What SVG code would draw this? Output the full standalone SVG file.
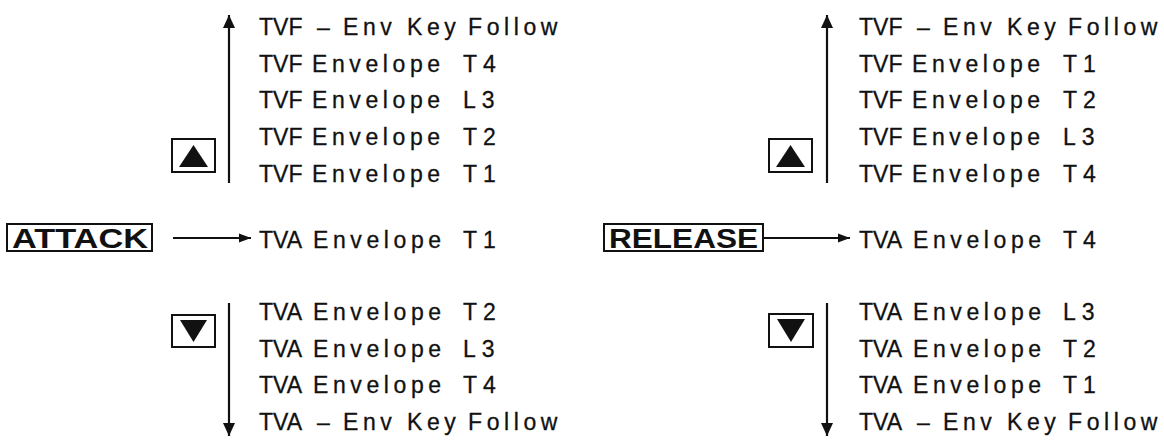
<svg xmlns="http://www.w3.org/2000/svg" width="1164" height="444" viewBox="0 0 1164 444">
<style>
.t{font-family:"Liberation Sans",Arial,sans-serif;font-size:23px;fill:#111;stroke:#111;stroke-width:0.3}
.w{letter-spacing:4.6px}
.n{letter-spacing:6px}
.btn{font-family:"Liberation Sans",Arial,sans-serif;font-weight:bold;font-size:27px;fill:#111}
.box{fill:#fff;stroke:#111;stroke-width:2}
.tri{fill:#111}
.ln{stroke:#111;stroke-width:2.2;fill:none}
.v{marker-end:url(#ah)}
.h{marker-end:url(#ahs)}
</style>
<defs>
<marker id="ah" markerUnits="userSpaceOnUse" markerWidth="13" markerHeight="13" viewBox="0 0 13 13" refX="13" refY="6.5" orient="auto"><path d="M0,0.5 L13,6.5 L0,12.5 z" fill="#111"/></marker>
<marker id="ahs" markerUnits="userSpaceOnUse" markerWidth="12" markerHeight="10" viewBox="0 0 12 10" refX="12" refY="5" orient="auto"><path d="M0,0.5 L12,5 L0,9.5 z" fill="#111"/></marker>
</defs>
<rect width="1164" height="444" fill="#fff"/>

<g id="connectors">
<line class="ln v" x1="229" y1="183" x2="229" y2="15"/>
<line class="ln v" x1="229" y1="303" x2="229" y2="436"/>
<line class="ln h" x1="173" y1="238" x2="251" y2="238"/>
<line class="ln v" x1="827" y1="183" x2="827" y2="15"/>
<line class="ln v" x1="827" y1="303" x2="827" y2="436"/>
<line class="ln h" x1="763" y1="238" x2="850" y2="238"/>
</g>

<g id="attack-button">
<rect class="box" x="7" y="224" width="145" height="27"/>
<text class="btn" x="12" y="247.5" textLength="136" lengthAdjust="spacingAndGlyphs">ATTACK</text>
</g>
<g id="release-button">
<rect class="box" x="604" y="224" width="159" height="27"/>
<text class="btn" x="609" y="247.5" textLength="149" lengthAdjust="spacingAndGlyphs">RELEASE</text>
</g>

<g id="attack-up-button">
<rect class="box" x="172" y="139" width="43" height="33"/>
<polygon class="tri" points="193.5,145 208,167 179,167"/>
</g>
<g id="attack-down-button">
<rect class="box" x="172" y="315" width="43" height="32"/>
<polygon class="tri" points="180,320 207,320 193.5,342"/>
</g>
<g id="release-up-button">
<rect class="box" x="769" y="139" width="43" height="33"/>
<polygon class="tri" points="790.5,145 805,167 776,167"/>
</g>
<g id="release-down-button">
<rect class="box" x="769" y="314" width="44" height="33"/>
<polygon class="tri" points="777,319 805,319 791,342"/>
</g>

<!-- Attack column -->
<g id="a-up-1"><text class="t" x="259" y="35">TVF <tspan x="317">– </tspan><tspan class="w" x="343">Env </tspan><tspan class="w" x="407">Key </tspan><tspan class="w" x="468">Follow</tspan></text></g>
<g id="a-up-2"><text class="t" x="259" y="72">TVF <tspan class="w" x="312">Envelope </tspan><tspan class="n" x="463">T4</tspan></text></g>
<g id="a-up-3"><text class="t" x="259" y="108">TVF <tspan class="w" x="312">Envelope </tspan><tspan class="n" x="463">L3</tspan></text></g>
<g id="a-up-4"><text class="t" x="259" y="145">TVF <tspan class="w" x="312">Envelope </tspan><tspan class="n" x="463">T2</tspan></text></g>
<g id="a-up-5"><text class="t" x="259" y="182">TVF <tspan class="w" x="312">Envelope </tspan><tspan class="n" x="463">T1</tspan></text></g>
<g id="a-mid"><text class="t" x="259" y="248">TVA <tspan class="w" x="313">Envelope </tspan><tspan class="n" x="463">T1</tspan></text></g>
<g id="a-down-1"><text class="t" x="259" y="320">TVA <tspan class="w" x="313">Envelope </tspan><tspan class="n" x="463">T2</tspan></text></g>
<g id="a-down-2"><text class="t" x="259" y="357">TVA <tspan class="w" x="313">Envelope </tspan><tspan class="n" x="463">L3</tspan></text></g>
<g id="a-down-3"><text class="t" x="259" y="393">TVA <tspan class="w" x="313">Envelope </tspan><tspan class="n" x="463">T4</tspan></text></g>
<g id="a-down-4"><text class="t" x="259" y="430">TVA <tspan x="317">– </tspan><tspan class="w" x="343">Env </tspan><tspan class="w" x="407">Key </tspan><tspan class="w" x="468">Follow</tspan></text></g>

<!-- Release column -->
<g id="r-up-1"><text class="t" x="859" y="35">TVF <tspan x="917">– </tspan><tspan class="w" x="943">Env </tspan><tspan class="w" x="1007">Key </tspan><tspan class="w" x="1068">Follow</tspan></text></g>
<g id="r-up-2"><text class="t" x="859" y="72">TVF <tspan class="w" x="912">Envelope </tspan><tspan class="n" x="1063">T1</tspan></text></g>
<g id="r-up-3"><text class="t" x="859" y="108">TVF <tspan class="w" x="912">Envelope </tspan><tspan class="n" x="1063">T2</tspan></text></g>
<g id="r-up-4"><text class="t" x="859" y="145">TVF <tspan class="w" x="912">Envelope </tspan><tspan class="n" x="1063">L3</tspan></text></g>
<g id="r-up-5"><text class="t" x="859" y="182">TVF <tspan class="w" x="912">Envelope </tspan><tspan class="n" x="1063">T4</tspan></text></g>
<g id="r-mid"><text class="t" x="859" y="248">TVA <tspan class="w" x="913">Envelope </tspan><tspan class="n" x="1063">T4</tspan></text></g>
<g id="r-down-1"><text class="t" x="859" y="320">TVA <tspan class="w" x="913">Envelope </tspan><tspan class="n" x="1063">L3</tspan></text></g>
<g id="r-down-2"><text class="t" x="859" y="357">TVA <tspan class="w" x="913">Envelope </tspan><tspan class="n" x="1063">T2</tspan></text></g>
<g id="r-down-3"><text class="t" x="859" y="393">TVA <tspan class="w" x="913">Envelope </tspan><tspan class="n" x="1063">T1</tspan></text></g>
<g id="r-down-4"><text class="t" x="859" y="430">TVA <tspan x="917">– </tspan><tspan class="w" x="943">Env </tspan><tspan class="w" x="1007">Key </tspan><tspan class="w" x="1068">Follow</tspan></text></g>
</svg>
